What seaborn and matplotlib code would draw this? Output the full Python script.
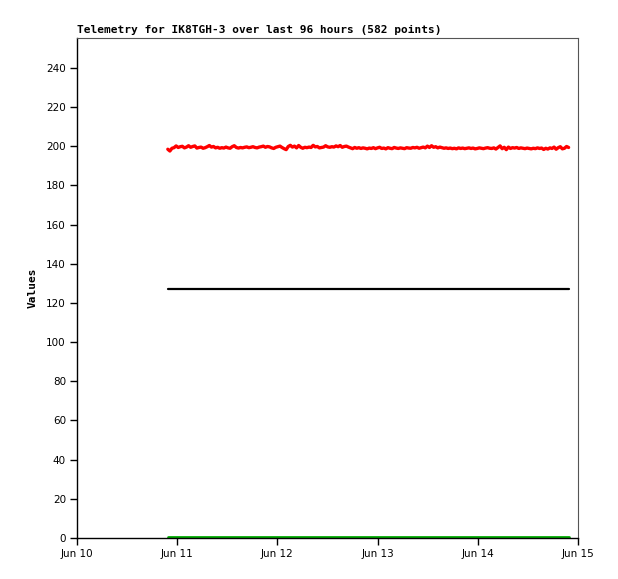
import matplotlib
matplotlib.use("Agg")
import matplotlib.pyplot as plt
import matplotlib.dates as mdates
import seaborn as sns
import pandas as pd
import numpy as np

title = "Telemetry for IK8TGH-3 over last 96 hours (582 points)"
start_time = "2024-06-10 21:45"
end_time = "2024-06-14 21:45"
x_min, x_max = "2024-06-10", "2024-06-15"
y_ticks = [0, 20, 40, 60, 80, 100, 120, 140, 160, 180, 200, 220, 240]

red_values = [
    198.5, 197.6, 199.0, 199.3, 200.2, 199.4, 199.8, 200.0, 199.2, 199.6, 200.3, 199.5, 199.9, 200.2, 199.1, 199.4, 199.6, 199.0, 199.3, 199.8,
    200.4, 199.6, 199.9, 199.2, 199.5, 199.0, 199.3, 199.1, 199.6, 199.2, 199.0, 199.8, 200.3, 199.4, 199.1, 199.4, 199.2, 199.5, 199.7, 199.3,
    199.5, 199.8, 199.4, 199.2, 199.6, 199.8, 200.1, 199.5, 199.9, 199.7, 199.2, 198.9, 199.5, 199.8, 200.1, 199.4, 198.8, 198.3, 199.9, 200.5,
    199.6, 200.1, 199.2, 200.4, 199.5, 199.0, 199.5, 199.3, 199.6, 199.4, 200.5, 199.7, 199.9, 199.2, 199.4, 199.6, 200.3, 199.7, 199.5, 199.8,
    199.6, 200.2, 199.8, 200.4, 199.5, 199.9, 200.1, 199.6, 199.2, 198.8, 199.4, 199.0, 199.3, 198.9, 199.2, 199.0, 198.7, 199.1, 198.9, 199.3,
    198.8, 199.2, 199.5, 198.9, 199.1, 198.7, 199.3, 199.0, 198.8, 199.4, 199.1, 198.9, 199.2, 199.0, 198.8, 199.3, 199.1, 199.0, 199.4, 199.2,
    199.5, 199.0, 199.3, 199.6, 199.2, 200.1, 199.4, 200.3, 199.5, 199.8, 199.2, 199.6, 199.3, 199.0, 199.2, 198.9, 199.1, 198.8, 199.0, 198.7,
    199.2, 198.9, 199.1, 198.8, 199.0, 199.2, 198.9, 199.1, 198.7, 198.9, 199.2, 199.0, 198.8, 199.1, 199.3, 199.0, 198.9, 199.2, 198.6, 199.4,
    200.2, 198.8, 199.5, 198.3, 199.6, 198.9, 199.3, 199.1, 199.4, 198.9, 199.2, 199.0, 198.8, 199.1, 198.9, 198.7, 199.0, 198.8, 199.2, 198.9,
    199.1, 198.4, 199.0, 198.6, 199.2, 198.9, 199.6, 198.5, 199.3, 199.8, 198.7, 199.0, 199.9, 199.4,
]
black_values = [127.0] * len(red_values)
green_values = [0.3] * len(red_values)

times = pd.date_range(start_time, end_time, periods=len(red_values))
df = pd.DataFrame({"time": times, "red": red_values, "black": black_values, "green": green_values})

sns.set_style("white")
fig = plt.figure(figsize=(6.18, 5.79), dpi=100)
ax = fig.add_axes([77 / 618, 41 / 579, 501 / 618, 500 / 579])

sns.lineplot(data=df, x="time", y="green", color="#00aa00", linewidth=2.0, ax=ax)
sns.lineplot(data=df, x="time", y="black", color="#000000", linewidth=1.6, ax=ax)
sns.lineplot(data=df, x="time", y="red", color="#ff0000", linewidth=2.4, ax=ax)

ax.set_xlim(pd.Timestamp(x_min), pd.Timestamp(x_max))
ax.set_ylim(0, 255.3)
ax.set_yticks(y_ticks)
ax.xaxis.set_major_locator(mdates.DayLocator())
ax.xaxis.set_major_formatter(mdates.DateFormatter("%b %d"))
ax.tick_params(axis="both", which="major", direction="out", length=5, width=1, color="black",
               labelsize=7.5, labelcolor="black", pad=3, bottom=True, left=True,
               top=False, right=False)
for lbl in ax.get_xticklabels() + ax.get_yticklabels():
    lbl.set_fontfamily("DejaVu Sans")
ax.set_xlabel("")
ax.set_ylabel("Values", fontsize=8, fontweight="bold", fontfamily="DejaVu Sans Mono",
              labelpad=6, color="black")
ax.text(0, 1.006, title, transform=ax.transAxes, ha="left", va="bottom",
        fontsize=8, fontweight="bold", fontfamily="DejaVu Sans Mono", color="black")

for side in ["left", "bottom"]:
    ax.spines[side].set_color("black")
    ax.spines[side].set_linewidth(1.0)
for side in ["top", "right"]:
    ax.spines[side].set_color("#555555")
    ax.spines[side].set_linewidth(0.8)
ax.grid(False)

fig.savefig("out.png", dpi=100)
